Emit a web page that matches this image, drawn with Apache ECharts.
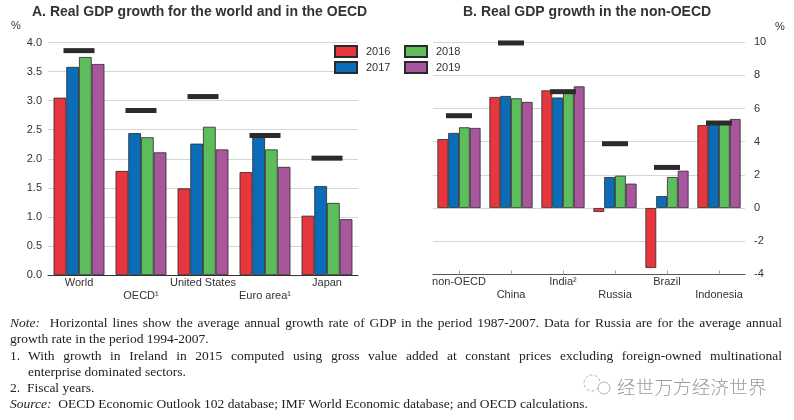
<!DOCTYPE html>
<html>
<head>
<meta charset="utf-8">
<script src="https://cdn.jsdelivr.net/npm/echarts@6/dist/echarts.min.js"></script>
<style>
html,body{margin:0;padding:0;background:#fff;}
#wrap{position:relative;width:794px;height:420px;overflow:hidden;}
#chart{position:absolute;left:0;top:0;width:794px;height:420px;}
.note{position:absolute;left:10px;width:772px;font-family:"Liberation Serif","DejaVu Serif",serif;font-size:13.5px;color:#222;white-space:nowrap;line-height:16px;}
.just{text-align:justify;text-align-last:justify;}
.ind{left:28px;width:754px;}
#wm{position:absolute;left:617px;top:373px;font-family:"Noto Sans CJK SC",sans-serif;font-size:18.5px;color:#9a9a9a;letter-spacing:0.2px;font-weight:300;}
</style>
</head>
<body>
<div id="wrap">
<div id="chart"></div>
<div class="note just" style="top:315px;"><i>Note:</i>&nbsp; Horizontal lines show the average annual growth rate of GDP in the period 1987-2007. Data for Russia are for the average annual</div>
<div class="note" style="top:331px;">growth rate in the period 1994-2007.</div>
<div class="note" style="top:348px;width:20px;">1.</div>
<div class="note just ind" style="top:348px;">With growth in Ireland in 2015 computed using gross value added at constant prices excluding foreign-owned multinational</div>
<div class="note ind" style="top:364px;">enterprise dominated sectors.</div>
<div class="note" style="top:380px;">2.&nbsp; Fiscal years.</div>
<div class="note" style="top:396px;"><i>Source:</i>&nbsp; OECD Economic Outlook 102 database; IMF World Economic database; and OECD calculations.</div>
<div id="wm">经世万方经济世界</div>
</div>
<script>
// Panel A data
const categoriesA = ['World', 'OECD¹', 'United States', 'Euro area¹', 'Japan'];
const a2016 = [3.05, 1.79, 1.49, 1.77, 1.02];
const a2017 = [3.58, 2.44, 2.26, 2.37, 1.53];
const a2018 = [3.75, 2.37, 2.55, 2.16, 1.24];
const a2019 = [3.63, 2.11, 2.16, 1.86, 0.96];
const aAvg = [3.86, 2.83, 3.07, 2.40, 2.01];
// Panel B data
const categoriesB = ['non-OECD', 'China', 'India²', 'Russia', 'Brazil', 'Indonesia'];
const b2016 = [4.16, 6.70, 7.10, -0.24, -3.62, 5.00];
const b2017 = [4.53, 6.76, 6.67, 1.87, 0.72, 5.10];
const b2018 = [4.87, 6.62, 6.95, 1.95, 1.87, 5.10];
const b2019 = [4.83, 6.40, 7.34, 1.47, 2.25, 5.37];
const bAvg = [5.57, 9.96, 7.02, 3.88, 2.45, 5.13];
const years = ['2016', '2017', '2018', '2019'];
const ticksA = [0, 0.5, 1, 1.5, 2, 2.5, 3, 3.5, 4];
const ticksB = [-4, -2, 0, 2, 4, 6, 8, 10];

const colors = ['#e8363f', '#0b6db7', '#5dbd5d', '#a8579d'];
const FONT = '"Liberation Sans", Arial, sans-serif';
const TXT = '#333';

const chart = echarts.init(document.getElementById('chart'), null, {renderer: 'canvas'});

function barSeries(name, data, idx, gi, gap) {
  return {
    type: 'bar', name: name, data: data,
    xAxisIndex: gi, yAxisIndex: gi,
    barGap: '0%', barCategoryGap: gap,
    itemStyle: {color: colors[idx], borderColor: '#2a2a2a', borderWidth: 0.8},
    emphasis: {disabled: true},
    animation: false, z: 2
  };
}
function avgSeries(data, gi, w) {
  return {
    type: 'scatter', data: data, xAxisIndex: gi, yAxisIndex: gi,
    symbol: 'rect', symbolSize: [w, 5],
    itemStyle: {color: '#2b2b2b', opacity: 1},
    emphasis: {disabled: true},
    animation: false, z: 5, silent: true
  };
}
const xLabel = {
  interval: 0, hideOverlap: false, fontFamily: FONT, fontSize: 11, color: TXT,
  lineHeight: 13, margin: 1,
  formatter: (v, i) => (i % 2 ? '\n' + v : v)
};

const option = {
  animation: false,
  textStyle: {fontFamily: FONT},
  title: [
    {text: 'A. Real GDP growth for the world and in the OECD', left: 27, top: 0,
     textStyle: {fontFamily: FONT, fontSize: 14, fontWeight: 'bold', color: TXT}},
    {text: 'B. Real GDP growth in the non-OECD', left: 458, top: 0,
     textStyle: {fontFamily: FONT, fontSize: 14, fontWeight: 'bold', color: TXT}}
  ],
  legend: [
    {data: ['2016', '2017'], orient: 'vertical', left: 334, top: 45, padding: 0,
     itemWidth: 22, itemHeight: 11, itemGap: 3, icon: 'rect', selectedMode: false,
     textStyle: {fontFamily: FONT, fontSize: 11, color: TXT, padding: [0, 0, 0, 4]}},
    {data: ['2018', '2019'], orient: 'vertical', left: 404, top: 45, padding: 0,
     itemWidth: 22, itemHeight: 11, itemGap: 3, icon: 'rect', selectedMode: false,
     textStyle: {fontFamily: FONT, fontSize: 11, color: TXT, padding: [0, 0, 0, 4]}}
  ],
  graphic: [
    {type: 'text', left: 11, top: 20, style: {text: '%', font: '11px ' + FONT, fill: TXT}},
    {type: 'text', left: 775, top: 21, style: {text: '%', font: '11px ' + FONT, fill: TXT}},
    {type: 'circle', shape: {cx: 592, cy: 383, r: 8}, style: {fill: 'none', stroke: '#b0b0b0', lineWidth: 1, lineDash: [3, 2]}},
    {type: 'circle', shape: {cx: 604, cy: 388, r: 6}, style: {fill: '#fff', stroke: '#b0b0b0', lineWidth: 1}}
  ],
  grid: [
    {left: 48, top: 42.5, width: 310, height: 232.5},
    {left: 433, top: 42.3, width: 312, height: 232}
  ],
  xAxis: [
    {type: 'category', gridIndex: 0, data: categoriesA,
     axisLine: {onZero: false, lineStyle: {color: '#333', width: 1}},
     axisTick: {show: false}, axisLabel: xLabel},
    {type: 'category', gridIndex: 1, data: categoriesB,
     axisLine: {onZero: false, lineStyle: {color: '#555', width: 1}},
     axisTick: {show: true, inside: true, alignWithLabel: true, length: 4, lineStyle: {color: '#aaa'}},
     axisLabel: xLabel}
  ],
  yAxis: [
    {type: 'value', gridIndex: 0, min: ticksA[0], max: ticksA[ticksA.length - 1], interval: 0.5,
     axisLine: {show: false}, axisTick: {show: false},
     splitLine: {lineStyle: {color: '#d6d6d6', width: 1}},
     axisLabel: {fontFamily: FONT, fontSize: 11, color: TXT, margin: 6,
                 formatter: v => v.toFixed(1)}},
    {type: 'value', gridIndex: 1, position: 'right', min: ticksB[0], max: ticksB[ticksB.length - 1], interval: 2,
     axisLine: {show: false}, axisTick: {show: false},
     splitLine: {lineStyle: {color: '#d6d6d6', width: 1}},
     axisLabel: {fontFamily: FONT, fontSize: 11, color: TXT, margin: 9}}
  ],
  series: [
    barSeries(years[0], a2016, 0, 0, '18%'),
    barSeries(years[1], a2017, 1, 0, '18%'),
    barSeries(years[2], a2018, 2, 0, '18%'),
    barSeries(years[3], a2019, 3, 0, '18%'),
    avgSeries(aAvg, 0, 31),
    barSeries(years[0], b2016, 0, 1, '17%'),
    barSeries(years[1], b2017, 1, 1, '17%'),
    barSeries(years[2], b2018, 2, 1, '17%'),
    barSeries(years[3], b2019, 3, 1, '17%'),
    avgSeries(bAvg, 1, 26)
  ]
};
chart.setOption(option);
</script>
</body>
</html>
